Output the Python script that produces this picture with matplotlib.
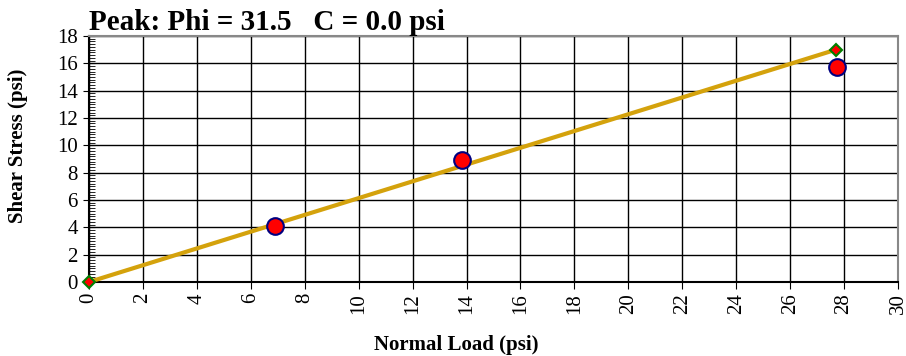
import matplotlib
matplotlib.use("Agg")
import matplotlib.pyplot as plt
from matplotlib.ticker import MultipleLocator

plt.rcParams['font.family'] = ['Liberation Serif', 'DejaVu Serif']

# Data
normal_load = [6.9, 13.85, 27.75]
shear_stress = [4.1, 8.95, 15.7]
fit_x = [0.0, 27.7]
fit_y = [0.0, 17.0]
title = "Peak: Phi = 31.5   C = 0.0 psi"

fig = plt.figure(figsize=(9.06, 3.56), dpi=100)
ax = fig.add_axes([0.0982, 0.2079, 0.8930, 0.6910])

ax.plot(fit_x, fit_y, color='#D4A20C', lw=3.0, zorder=3, solid_capstyle='butt')
ax.plot(fit_x, fit_y, ls='none', marker='D', ms=6, mfc='red', mec='green', mew=1.5, zorder=6, clip_on=False)
ax.plot(normal_load, shear_stress, ls='none', marker='o', ms=12, mfc='red', mec='navy', mew=1.5, zorder=5)

ax.set_xlim(0, 30)
ax.set_ylim(0, 18)
ax.xaxis.set_major_locator(MultipleLocator(2))
ax.yaxis.set_major_locator(MultipleLocator(2))
ax.yaxis.set_minor_locator(MultipleLocator(0.2))
ax.grid(True, which='major', color='black', lw=1.0)
ax.set_axisbelow(True)

for s in ax.spines.values():
    s.set_color('#888888')
    s.set_linewidth(1.5)
ax.spines['left'].set_color('black')
ax.spines['bottom'].set_color('black')

ax.tick_params(axis='x', which='major', direction='out', length=5, labelsize=15, labelrotation=90, pad=3)
ax.tick_params(axis='y', which='major', direction='inout', length=8, labelsize=15, pad=4)
ax.tick_params(axis='y', which='minor', direction='in', length=4)

ax.set_xlabel('Normal Load (psi)', fontsize=15, fontweight='bold')
ax.set_ylabel('Shear Stress (psi)', fontsize=15, fontweight='bold')
ax.xaxis.set_label_coords(0.454, -0.217)
ax.yaxis.set_label_coords(-0.0754, 0.553)
ax.set_title(title, fontsize=21, fontweight='bold', loc='left', pad=3)

fig.savefig('out.png', dpi=100)
